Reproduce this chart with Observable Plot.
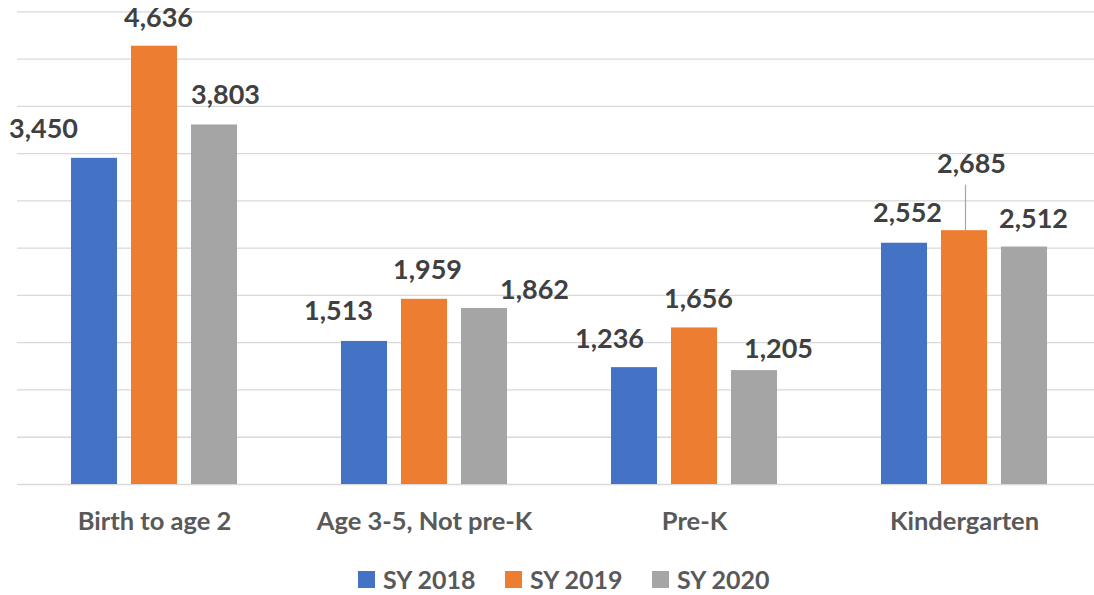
<!DOCTYPE html>
<html><head><meta charset="utf-8">
<script src="https://cdn.jsdelivr.net/npm/d3@7"></script>
<script src="https://cdn.jsdelivr.net/npm/@observablehq/plot@0.6"></script>
<style>
body{margin:0;background:#fff;font-family:Lato,"Open Sans",sans-serif;}
#chart svg{display:block;}
.legend{display:flex;padding-left:358px;padding-top:23px;height:24px;}
.item{display:flex;align-items:center;width:147px;height:17px;font-size:25px;font-weight:700;color:#595959;line-height:17px;white-space:nowrap;}
.sw{width:17px;height:17px;margin-right:8px;flex:none;}
</style></head><body>
<div id="chart"></div>
<div class="legend" id="legend"></div>
<script>
const categories = ["Birth to age 2", "Age 3-5, Not pre-K", "Pre-K", "Kindergarten"];
const seriesNames = ["SY 2018", "SY 2019", "SY 2020"];
const sy2018 = [3450, 1513, 1236, 2552];
const sy2019 = [4636, 1959, 1656, 2685];
const sy2020 = [3803, 1862, 1205, 2512];
const colors = ["#4472C4", "#ED7D31", "#A5A5A5"];
const yTicks = [0, 500, 1000, 1500, 2000, 2500, 3000, 3500, 4000, 4500, 5000];
// label nudges (layout only): [category][series]
const labelDx = [[-51, 4, 11], [-26, 3, 50], [-25, 4, 24], [3, 7, 9]];
const labelRise = [[20, 19, 21], [21, 20, 9], [20, 20, 13], [21, 58, 19]];

const seriesValues = [sy2018, sy2019, sy2020];
const rows = categories.flatMap((c, i) => seriesNames.map((s, j) => ({category: c, series: s, value: seriesValues[j][i], ci: i, sj: j})));

const xRange = [17, 1100.8];
const yDomain = [0, 5000], yRange = [484, 11.3];
const band = (xRange[1] - xRange[0]) / categories.length;
const step = 60, barW = 47;
const inset = (band - barW) / 2;
const fmt = d3.format(",");

const yS = Plot.scale({y: {domain: yDomain, range: yRange}});

const bars = seriesNames.map((s, j) => Plot.barY(rows.filter(r => r.sj === j), {
  x: "category", y: "value", fill: colors[j], dx: (j - 1) * step, insetLeft: inset, insetRight: inset
}));

const labels = rows.map(r => Plot.text([r], {
  x: "category", y: "value", text: d => fmt(d.value),
  dx: (r.sj - 1) * step + labelDx[r.ci][r.sj], dy: -labelRise[r.ci][r.sj],
  lineAnchor: "bottom", textAnchor: "middle", fontSize: 27, fontWeight: 700, fill: "#404040"
}));

const leaderRow = rows.find(r => r.ci === 3 && r.sj === 1);
const leader = Plot.link([leaderRow], {
  x1: "category", x2: "category", y1: "value",
  y2: d => yS.invert(yS.apply(d.value) - 46),
  dx: 1, stroke: "#a6a6a6", strokeWidth: 1.2
});

const chart = Plot.plot({
  width: 1094, height: 548,
  marginLeft: 17, marginRight: 0, marginTop: 11, marginBottom: 64,
  style: {fontFamily: "Lato", fontSize: "25.5px", fontWeight: 700, color: "#595959", background: "#fff"},
  x: {domain: categories, range: xRange, padding: 0, tickSize: 0, tickPadding: 27, label: null},
  y: {domain: yDomain, range: yRange, axis: null},
  marks: [
    Plot.ruleY(yTicks, {stroke: "#d9d9d9", strokeWidth: 1.3}),
    ...bars,
    leader,
    ...labels
  ]
});
document.getElementById("chart").appendChild(chart);

const lg = document.getElementById("legend");
seriesNames.forEach((s, j) => {
  const it = document.createElement("div"); it.className = "item";
  const sw = document.createElement("span"); sw.className = "sw"; sw.style.background = colors[j];
  const tx = document.createElement("span"); tx.textContent = s;
  it.appendChild(sw); it.appendChild(tx); lg.appendChild(it);
});
</script>
</body></html>
